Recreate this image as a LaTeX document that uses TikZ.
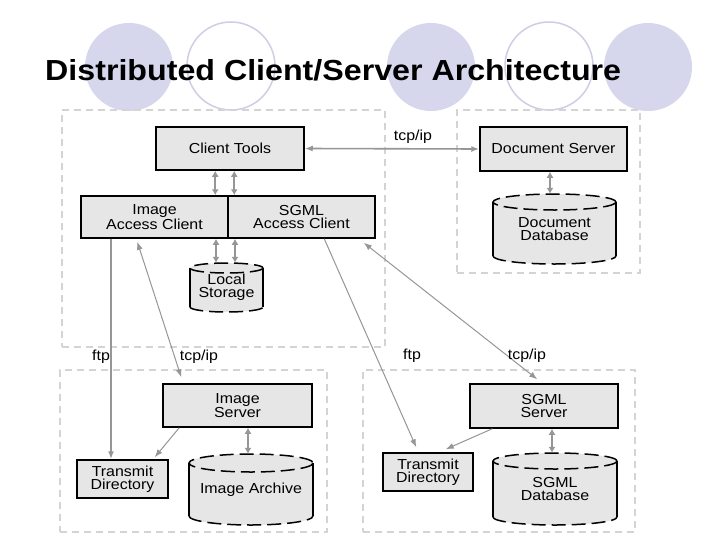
\documentclass[tikz,border=0pt]{standalone}
\usepackage{fontspec}
\usepackage{graphicx}
\setmainfont{Liberation Sans}
\newfontfamily\boxfont[FakeStretch=1.1]{Liberation Sans}
\newfontfamily\titlefont[FakeStretch=1.11,BoldFont={Liberation Sans Bold}]{Liberation Sans}
\usetikzlibrary{arrows.meta,calc}
\definecolor{lav}{RGB}{214,214,236}
\definecolor{lavline}{RGB}{206,206,230}
\definecolor{boxgray}{RGB}{230,230,230}
\definecolor{conn}{RGB}{150,150,150}
\definecolor{framegray}{RGB}{212,212,212}
\tikzset{
  box/.style={draw=black, line width=1.5pt, fill=boxgray, inner sep=0pt, align=center,
    font=\boxfont\fontsize{14.5}{13}\selectfont},
  cylnode/.style={inner sep=0pt, align=center, font=\boxfont\fontsize{14.5}{13}\selectfont},
  container/.style={draw=framegray, line width=2pt, dash pattern=on 7pt off 5pt, inner sep=0pt},
  dbl/.style={draw=conn, line width=2.2pt, {Latex[length=6pt,width=7pt]}-{Latex[length=6pt,width=7pt]}},
  link/.style={draw=conn, line width=1pt, -{Latex[length=8pt,width=6pt]}},
  blink/.style={draw=conn, line width=1pt, {Latex[length=8pt,width=6pt]}-{Latex[length=8pt,width=6pt]}},
  lbl/.style={font=\boxfont\fontsize{14.5}{16}\selectfont, inner sep=0pt},
  cylside/.style={draw=black, line width=1.5pt},
  cyldash/.style={draw=black, line width=1.5pt, dash pattern=on 14pt off 6pt},
}
% name, x1, y1, x2, y2, ry, text
\newcommand\cylshape[7]{%
  \fill[boxgray] ({#2},{#3+#6}) -- ({#2},{#5-#6})
    arc[start angle=180,end angle=0,x radius={(#4-#2)/2},y radius={#6}]
    -- ({#4},{#3+#6})
    arc[start angle=0,end angle=-180,x radius={(#4-#2)/2},y radius={#6}] -- cycle;
  \draw[cylside] ({#2},{#3+#6}) -- ({#2},{#5-#6});
  \draw[cylside] ({#4},{#3+#6}) -- ({#4},{#5-#6});
  \draw[cyldash] ({(#2+#4)/2},{#3+#6}) ellipse[x radius={(#4-#2)/2},y radius={#6}];
  \draw[cyldash] ({#2},{#5-#6})
    arc[start angle=180,end angle=0,x radius={(#4-#2)/2},y radius={#6}];
  \node[cylnode, minimum width={(#4-#2)*1pt}, minimum height={(#5-#3)*1pt}]
    (#1) at ({(#2+#4)/2},{(#3+#5)/2}) {#7};%
}
\begin{document}
\begin{tikzpicture}[x=1pt,y=-1pt]
\useasboundingbox (0,0) rectangle (728,546);
\fill[white] (0,0) rectangle (728,546);
% decorative circles
\fill[lav] (129,67) circle[radius=44];
\draw[lavline, line width=1.5pt] (231,66) circle[radius=44];
\fill[lav] (431,67) circle[radius=44];
\draw[lavline, line width=1.5pt] (549,66) circle[radius=44];
\fill[lav] (648,67) circle[radius=44];
% title
\node[anchor=base west, inner sep=0pt, font=\titlefont\bfseries\fontsize{29}{34}\selectfont]
  (title) at (45,80) {Distributed Client/Server Architecture};
% containers
\node[container, minimum width=323pt, minimum height=237pt] (ctop) at (223.5,228.5) {};
\node[container, minimum width=183pt, minimum height=163pt] (cdoc) at (548.5,191.5) {};
\node[container, minimum width=267pt, minimum height=162pt] (cbl) at (193.5,451) {};
\node[container, minimum width=272pt, minimum height=162pt] (cbr) at (499,451) {};
% boxes
\node[box, minimum width=148pt, minimum height=43pt] (ct) at (230,148.5) {Client Tools};
\node[box, minimum width=147pt, minimum height=42pt] (ia) at (154.5,217) {Image\\Access Client};
\node[box, minimum width=147pt, minimum height=42pt] (sa) at (301.5,217) {SGML\\Access Client};
\node[box, minimum width=147pt, minimum height=44pt] (ds) at (553.5,149) {Document Server};
\node[box, minimum width=149pt, minimum height=43pt] (is) at (237.5,405.5) {Image\\Server};
\node[box, minimum width=148pt, minimum height=44pt] (ss) at (544,406) {SGML\\Server};
\node[box, minimum width=91pt, minimum height=38pt] (tdl) at (122.5,479) {Transmit\\Directory};
\node[box, minimum width=90pt, minimum height=38pt] (tdr) at (428,472) {Transmit\\Directory};
% cylinders
\cylshape{ls}{190}{263}{263}{312}{5}{Local\\Storage}
\cylshape{ddb}{493}{194}{616}{264}{8}{Document\\Database}
\cylshape{iar}{189}{454}{313}{525}{9}{Image Archive}
\cylshape{sdb}{493}{453}{617}{525}{8}{SGML\\Database}
% short double arrows
\draw[dbl] ([xshift=60pt]ct.south west) -- ([xshift=60pt]ct.south west |- ia.north);
\draw[dbl] ([xshift=79pt]ct.south west) -- ([xshift=79pt]ct.south west |- sa.north);
\draw[dbl] ([xshift=-10.5pt]ls.north |- ia.south) -- ([xshift=-10.5pt]ls.north);
\draw[dbl] ([xshift=8.5pt]ls.north |- sa.south) -- ([xshift=8.5pt]ls.north);
\draw[dbl] ([xshift=-3.5pt]ds.south) -- ([xshift=-3.5pt]ds.south |- ddb.north);
\draw[dbl] ([xshift=10.5pt]is.south) -- ([xshift=10.5pt]is.south |- iar.north);
\draw[dbl] ([xshift=8pt]ss.south) -- ([xshift=8pt]ss.south |- sdb.north);
% long connectors
\draw[blink, line width=1.6pt] (ct.east) -- (ds.west);
\draw[link, line width=1.8pt] ([xshift=-11.5pt]tdl.north |- ia.south) -- ([xshift=-11.5pt]tdl.north);
\draw[blink] ([xshift=57pt,yshift=-3pt]ia.south west) -- ([xshift=19pt,yshift=6pt]is.north west);
\draw[link] ([xshift=17pt]is.south west) -- ([xshift=-14pt,yshift=2pt]tdl.north east);
\draw[link] ([xshift=97pt]sa.south west) -- ([xshift=34pt,yshift=5pt]tdr.north west);
\draw[blink] ([xshift=-12pt,yshift=-4pt]sa.south east) -- ([xshift=68pt,yshift=4pt]ss.north west);
\draw[link] ([xshift=23pt]ss.south west) -- ([xshift=-28pt,yshift=3pt]tdr.north east);
% labels
\node[lbl] (l1) at (413,137) {tcp/ip};
\node[lbl] (l2) at (101,357) {ftp};
\node[lbl] (l3) at (199,357) {tcp/ip};
\node[lbl] (l4) at (412,356) {ftp};
\node[lbl] (l5) at (527,356) {tcp/ip};
\end{tikzpicture}
\end{document}
